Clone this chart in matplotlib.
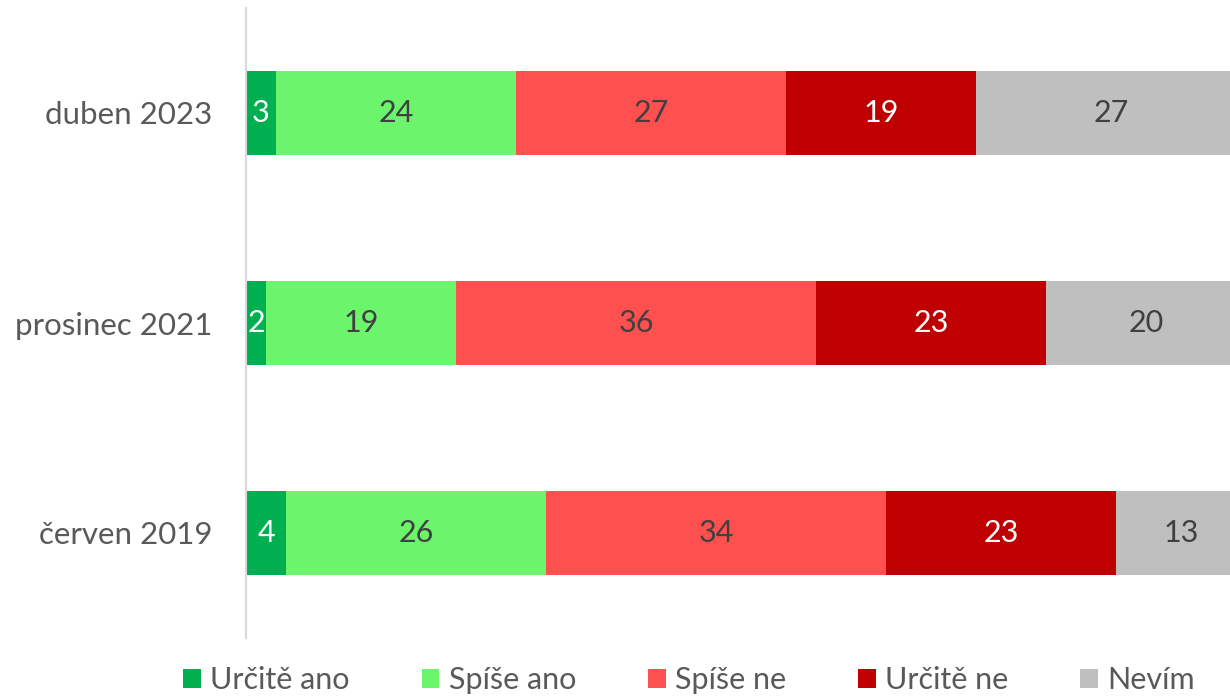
import matplotlib
matplotlib.use("Agg")
import matplotlib.pyplot as plt
from matplotlib.patches import Patch

plt.rcParams['font.family'] = ['Lato', 'DejaVu Sans']

categories = ["duben 2023", "prosinec 2021", "červen 2019"]
series = ["Určitě ano", "Spíše ano", "Spíše ne", "Určitě ne", "Nevím"]
values = {
    "Určitě ano": [3, 2, 4],
    "Spíše ano": [24, 19, 26],
    "Spíše ne": [27, 36, 34],
    "Určitě ne": [19, 23, 23],
    "Nevím": [27, 20, 13],
}
colors = {
    "Určitě ano": "#00b050",
    "Spíše ano": "#6cf56c",
    "Spíše ne": "#ff5050",
    "Určitě ne": "#c00000",
    "Nevím": "#bfbfbf",
}
text_colors = {
    "Určitě ano": "white",
    "Spíše ano": "#404040",
    "Spíše ne": "#404040",
    "Určitě ne": "white",
    "Nevím": "#404040",
}

W, H = 1230, 697
fig = plt.figure(figsize=(W / 100, H / 100), dpi=100)
ax = fig.add_axes([246 / W, (H - 638) / H, 1000 / W, 630 / H])

ypos = list(range(len(categories)))
left = [0] * len(categories)
for s in series:
    vals = values[s]
    ax.barh(ypos, vals, left=left, height=0.4, color=colors[s], edgecolor='none')
    for y, l, v in zip(ypos, left, vals):
        ax.text(l + v / 2, y, f"{v}", ha='center', va='center',
                fontsize=22, color=text_colors[s])
    left = [a + b for a, b in zip(left, vals)]

ax.set_xlim(0, 100)
ax.set_ylim(len(categories) - 0.5, -0.5)
ax.set_yticks(ypos)
ax.set_yticklabels(categories, fontsize=22.5, color='#595959')
ax.tick_params(axis='y', length=0, pad=24)
ax.set_xticks([])
for sp in ['top', 'right', 'bottom']:
    ax.spines[sp].set_visible(False)
ax.spines['left'].set_color('#d9d9d9')
ax.spines['left'].set_linewidth(1.5)

handles = [Patch(facecolor=colors[s], edgecolor='none') for s in series]
fig.legend(handles, series, loc='center', bbox_to_anchor=(689 / W, 1 - 680 / H),
           ncol=5, frameon=False, fontsize=22, labelcolor='#595959',
           handlelength=0.58, handleheight=0.58, handletextpad=0.3,
           columnspacing=2.36)

fig.savefig("out.png", dpi=100)
